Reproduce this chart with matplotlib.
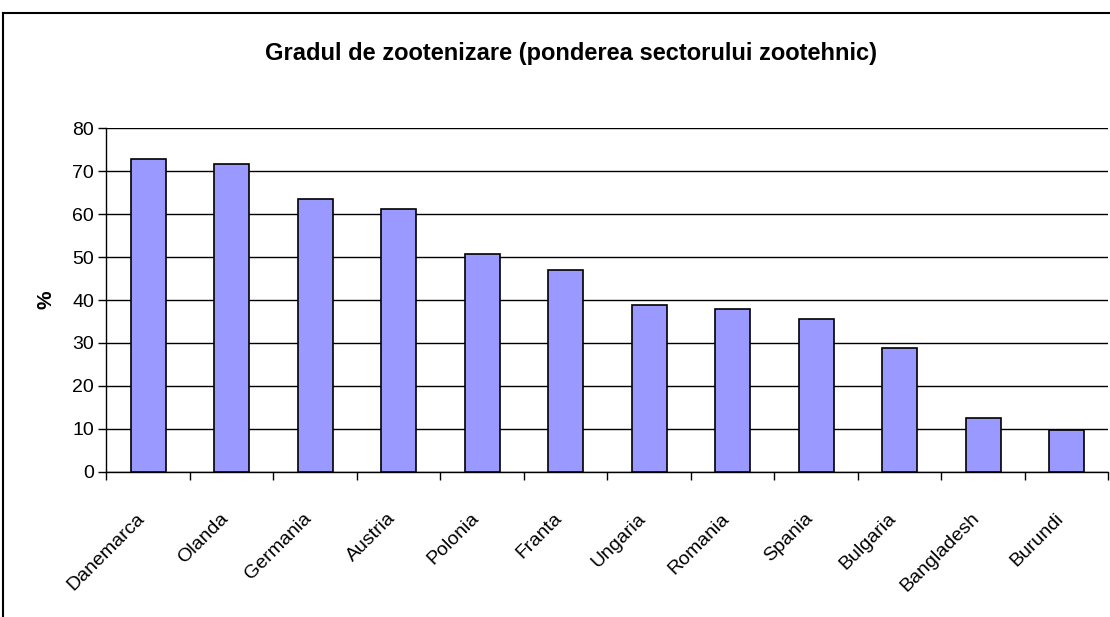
import numpy as np
import matplotlib
matplotlib.use("Agg")
from matplotlib import pyplot as plt
from matplotlib.lines import Line2D
from matplotlib.transforms import ScaledTranslation

plt.rcParams['font.family'] = ['Liberation Sans', 'DejaVu Sans']

# Data
countries = ["Danemarca", "Olanda", "Germania", "Austria", "Polonia", "Franta",
             "Ungaria", "Romania", "Spania", "Bulgaria", "Bangladesh", "Burundi"]
share = [72.8, 71.6, 63.5, 61.3, 50.7, 46.9, 38.9, 38.0, 35.5, 28.8, 12.6, 9.6]
y_ticks = [0, 10, 20, 30, 40, 50, 60, 70, 80]

fig = plt.figure(figsize=(11.1, 6.17), dpi=100)
ax = fig.add_axes([0.0959, 0.2355, 0.9027, 0.5565])

x = np.arange(len(countries))
ax.bar(x, share, width=0.42, color="#9999FF", edgecolor="black", linewidth=1.2, zorder=3)

ax.set_xlim(-0.5, len(countries) - 0.5)
ax.set_ylim(0, 80)
ax.set_yticks(y_ticks)
ax.yaxis.grid(True, color="black", linewidth=1)
ax.set_axisbelow(True)

# category boundaries get the tick marks, centres get the labels
ax.set_xticks(np.arange(-0.5, len(countries), 1))
ax.set_xticklabels([])
ax.set_xticks(x, minor=True)
ax.set_xticklabels(countries, minor=True, rotation=45, ha="right",
                   rotation_mode="anchor", fontsize=14)
ax.tick_params(axis="x", which="major", length=6, width=1, direction="out")
ax.tick_params(axis="x", which="minor", length=0, pad=26)
ax.tick_params(axis="y", length=6, width=1, direction="out", labelsize=14, pad=3)

# nudge rotated labels to the left like the original
shift = ScaledTranslation(-12 / 100, -2 / 100, fig.dpi_scale_trans)
for lbl in ax.get_xticklabels(minor=True):
    lbl.set_transform(lbl.get_transform() + shift)

for s in ["top", "right"]:
    ax.spines[s].set_visible(False)
ax.spines["left"].set_linewidth(1)
ax.spines["bottom"].set_linewidth(1)

ax.set_ylabel("%", fontsize=15, fontweight="bold", labelpad=12)

fig.text(0.514, 0.913, "Gradul de zootenizare (ponderea sectorului zootehnic)",
         ha="center", va="center", fontsize=17, fontweight="bold")

# chart frame (cropped at right and bottom)
fig.add_artist(Line2D([0.0027, 1.0], [0.979, 0.979], transform=fig.transFigure,
                      color="black", linewidth=1.5))
fig.add_artist(Line2D([0.0027, 0.0027], [0.0, 0.979], transform=fig.transFigure,
                      color="black", linewidth=1.5))

fig.savefig("out.png", dpi=100)
